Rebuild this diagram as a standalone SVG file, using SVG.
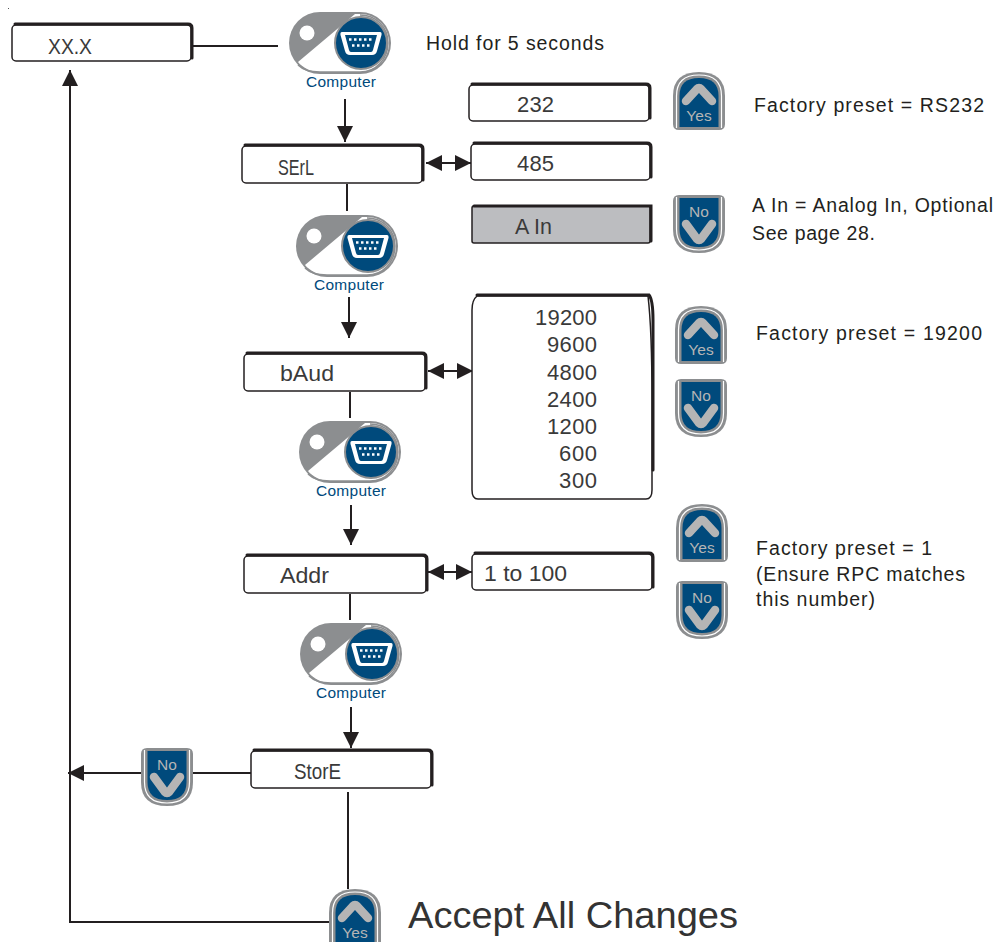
<svg xmlns="http://www.w3.org/2000/svg" width="1005" height="942" viewBox="0 0 1005 942">
<style>
text{font-family:"Liberation Sans",Arial,sans-serif;fill:#231f20}
.g{font-size:22px;fill:#3a3a3a}
.e{text-anchor:end}
.n{font-size:19.500px}
.c{font-size:15.500px;fill:#004a7c;text-anchor:middle}
.y{font-size:15.500px;fill:#b5b5b5;text-anchor:middle}
.l{fill:none;stroke:#231f20;stroke-width:2}
.b{fill:#fff;stroke:#231f20;stroke-width:1.500}
.t{fill:none;stroke:#231f20;stroke-width:3;stroke-linecap:round}
.v{fill:none;stroke:#b5b5b5;stroke-width:8.500;stroke-linecap:round;stroke-linejoin:round}
</style>
<defs>
<marker id="a" markerWidth="16" markerHeight="16" refX="16" refY="8" orient="auto-start-reverse" markerUnits="userSpaceOnUse"><path d="M0 0L16 8L0 16Z" fill="#231f20"/></marker>
<g id="comp">
<rect x="0" y="0" width="102" height="62" rx="31" fill="#8c8e90"/>
<path d="M66 2H71C87 2 100 15 100 31C100 47 87 60 71 60H31C22 60 14 56 9 50Z" fill="#fff"/>
<path d="M9 53C14 58 22 60 31 60H71C87 60 99 47 99 31C99 15 87 3 71 3" fill="none" stroke="#8c8e90" stroke-width="1.500"/>
<circle cx="18" cy="21" r="7.500" fill="#fff"/>
<circle cx="72" cy="31" r="26" fill="#004a7c" stroke="#8c8e90" stroke-width="2"/>
<path d="M53 20H91Q93 20 92.500 23L88 39Q87 43 83 43H61Q57 43 56 39L51.500 23Q51 20 53 20Z" fill="#fff"/>
<path d="M56 23H88L84 38Q83.500 40 82 40H62Q60.500 40 60 38Z" fill="#004a7c"/>
<path d="M60 27.500H84M63 33.500H81" stroke="#fff" stroke-width="2.500" stroke-dasharray="2.500 2.500"/>
</g>
<g id="yes">
<path d="M0 52V24Q0 0 26 0Q52 0 52 24V52Q52 58 46 58H6Q0 58 0 52Z" fill="#8c8e90"/>
<path d="M3.500 56V24Q3.500 3 26 3Q48.500 3 48.500 24V56" fill="none" stroke="#fff" stroke-width="1.200"/>
<path d="M6.500 55V24Q6.500 6 26 6Q45.500 6 45.500 24V55Z" fill="#004a7c"/>
<path class="v" d="M13 29L24 17Q26 15 28 17L39 29"/>
</g>
<g id="no">
<path d="M0 6Q0 0 6 0H46Q52 0 52 6V34Q52 58 26 58Q0 58 0 34Z" fill="#8c8e90"/>
<path d="M3.500 2V34Q3.500 55 26 55Q48.500 55 48.500 34V2" fill="none" stroke="#fff" stroke-width="1.200"/>
<path d="M6.500 3H45.500V34Q45.500 52 26 52Q6.500 52 6.500 34Z" fill="#004a7c"/>
<path class="v" d="M13 29L24 44Q26 46 28 44L39 29"/>
</g>
</defs>
<rect width="1005" height="942" fill="#fff"/>
<rect x="8" y="8" width="1" height="1" fill="#555"/>

<g id="connectors">
<path class="l" d="M191 46H278"/>
<path class="l" d="M345 99V142" marker-end="url(#a)"/>
<path class="l" d="M347 184V211"/>
<path class="l" d="M349 297V338" marker-end="url(#a)"/>
<path class="l" d="M350 392V418"/>
<path class="l" d="M351 505V545" marker-end="url(#a)"/>
<path class="l" d="M350 594V620"/>
<path class="l" d="M351 707V748" marker-end="url(#a)"/>
<path class="l" d="M426 163H471" marker-start="url(#a)" marker-end="url(#a)"/>
<path class="l" d="M428 371H473" marker-start="url(#a)" marker-end="url(#a)"/>
<path class="l" d="M428 572H472" marker-start="url(#a)" marker-end="url(#a)"/>
<path class="l" d="M251 773H68" marker-end="url(#a)"/>
<path class="l" d="M348 792V889"/>
<path class="l" d="M330 922H70V70" marker-end="url(#a)"/>
</g>

<g id="node-xx"><rect class="b" x="12" y="25" width="179" height="36" rx="4"/><path class="t" d="M15 24H188Q192 24 192 28V58"/><text class="g" x="48" y="54" textLength="44" lengthAdjust="spacingAndGlyphs">XX.X</text></g>
<g id="btn-c1"><use href="#comp" x="289" y="12"/><text class="c" x="341" y="87" textLength="70">Computer</text></g>
<g id="note-hold"><text class="n" x="426" y="50" textLength="178">Hold for 5 seconds</text></g>

<g id="node-232"><rect class="b" x="469" y="85" width="180" height="36" rx="4"/><path class="t" d="M472 84H646Q650 84 650 88V118"/><text class="g" x="517" y="112" textLength="37">232</text></g>
<g id="btn-y1"><use href="#yes" x="673" y="72"/><text class="y" x="699" y="121">Yes</text></g>
<g id="note-1"><text class="n" x="754" y="112" textLength="230">Factory preset = RS232</text></g>

<g id="node-serl"><rect class="b" x="242" y="146" width="180" height="37" rx="4"/><path class="t" d="M245 145H419Q423 145 423 149V180"/><text class="g" x="278" y="175" textLength="36" lengthAdjust="spacingAndGlyphs">SErL</text></g>
<g id="node-485"><rect class="b" x="471" y="144" width="179" height="36" rx="4"/><path class="t" d="M474 143H647Q651 143 651 147V177"/><text class="g" x="517" y="171" textLength="37">485</text></g>
<g id="node-ain"><rect x="472" y="206" width="178" height="37" fill="#bcbdc0" stroke="#231f20" stroke-width="1.500" rx="2"/><path class="t" d="M474 206H651V241"/><text class="g" x="515" y="234" textLength="37" lengthAdjust="spacingAndGlyphs">A In</text></g>
<g id="btn-n1"><use href="#no" x="673" y="195"/><text class="y" x="699" y="217">No</text></g>
<g id="note-2"><text class="n" x="752" y="212" textLength="241">A In = Analog In, Optional</text><text class="n" x="752" y="240" textLength="123">See page 28.</text></g>
<g id="btn-c2"><use href="#comp" x="296" y="215"/><text class="c" x="349" y="290" textLength="70">Computer</text></g>

<g id="node-baud"><rect class="b" x="244" y="354" width="181" height="37" rx="4"/><path class="t" d="M247 353H422Q426 353 426 357V388"/><text class="g" x="280" y="381" textLength="54" lengthAdjust="spacingAndGlyphs">bAud</text></g>
<g id="node-rates"><path class="b" d="M477 296H648Q652 330 652 400V490Q652 499 646 499H478Q472 499 472 490V310Q472 300 477 296Z"/><path class="t" d="M477 295H649Q653 300 653 320V470"/>
<text class="g e" x="597" y="325" textLength="62">19200</text><text class="g e" x="597" y="352" textLength="50">9600</text><text class="g e" x="597" y="380" textLength="50">4800</text><text class="g e" x="597" y="407" textLength="50">2400</text><text class="g e" x="597" y="434" textLength="50">1200</text><text class="g e" x="597" y="461" textLength="38">600</text><text class="g e" x="597" y="488" textLength="38">300</text></g>
<g id="btn-y2"><use href="#yes" x="675" y="306"/><text class="y" x="701" y="355">Yes</text></g>
<g id="note-3"><text class="n" x="756" y="340" textLength="226">Factory preset = 19200</text></g>
<g id="btn-n2"><use href="#no" x="675" y="379"/><text class="y" x="701" y="401">No</text></g>
<g id="btn-c3"><use href="#comp" x="299" y="421"/><text class="c" x="351" y="496" textLength="70">Computer</text></g>

<g id="node-addr"><rect class="b" x="244" y="556" width="182" height="37" rx="4"/><path class="t" d="M247 555H423Q427 555 427 559V590"/><text class="g" x="280" y="583" textLength="49" lengthAdjust="spacingAndGlyphs">Addr</text></g>
<g id="node-range"><rect class="b" x="472" y="554" width="180" height="36" rx="4"/><path class="t" d="M475 553H649Q653 553 653 557V587"/><text class="g" x="484" y="581" textLength="83" lengthAdjust="spacingAndGlyphs">1 to 100</text></g>
<g id="btn-y3"><use href="#yes" x="676" y="504"/><text class="y" x="702" y="553">Yes</text></g>
<g id="note-4"><text class="n" x="756" y="555" textLength="176">Factory preset = 1</text><text class="n" x="756" y="581" textLength="209">(Ensure RPC matches</text><text class="n" x="756" y="606" textLength="119">this number)</text></g>
<g id="btn-n3"><use href="#no" x="676" y="581"/><text class="y" x="702" y="603">No</text></g>
<g id="btn-c4"><use href="#comp" x="300" y="623"/><text class="c" x="351" y="698" textLength="70">Computer</text></g>

<g id="node-store"><rect class="b" x="251" y="751" width="180" height="37" rx="4"/><path class="t" d="M254 750H428Q432 750 432 754V785"/><text class="g" x="294" y="779" textLength="47" lengthAdjust="spacingAndGlyphs">StorE</text></g>
<g id="btn-n4"><use href="#no" x="141" y="748"/><text class="y" x="167" y="770">No</text></g>
<g id="btn-y4"><use href="#yes" x="329" y="889"/><text class="y" x="355" y="938">Yes</text></g>
<g id="note-accept"><text x="408" y="928" font-size="36" style="fill:#333" textLength="330" lengthAdjust="spacingAndGlyphs">Accept All Changes</text></g>
</svg>
